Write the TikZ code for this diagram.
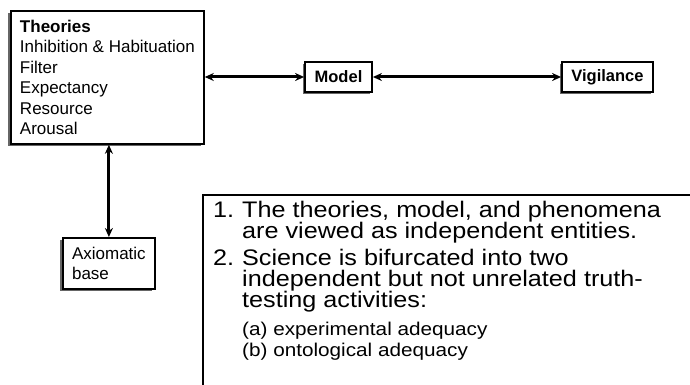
\documentclass[tikz,border=0pt]{standalone}
\usepackage{fontspec}
\setmainfont{Liberation Sans}
\newfontfamily\boxfont{Liberation Sans}
\newfontfamily\notefont[FakeStretch=1.12]{Liberation Sans}
\newfontfamily\subnotefont[FakeStretch=1.12]{Liberation Sans}
\usepackage{tikz}
\usetikzlibrary{arrows.meta,shadows}
\tikzstyle{shadowbox}=[rectangle,draw=black,line width=1.8pt,fill=white,
                       drop shadow={shadow xshift=-2.5pt,shadow yshift=-2.5pt,fill=black!60,opacity=1},
                       align=left,inner sep=0pt]
\tikzstyle{link}=[{Stealth[length=9pt,width=8pt]}-{Stealth[length=9pt,width=8pt]},line width=3pt]
\newcommand\boxsize{\boxfont\fontsize{17}{20.5}\selectfont}
\newcommand\numlabel[1]{\makebox[29pt][l]{#1}}
\newcommand\subnote[1]{{\subnotefont\fontsize{18.5}{23}\selectfont\numlabel{}#1}}

\begin{document}
\begin{tikzpicture}[x=1pt,y=-1pt]
    \useasboundingbox (0,0) rectangle (690,385);
    % boxes
    \node [shadowbox,font=\boxsize,anchor=north west,minimum width=193pt,minimum height=133pt] (theories) at (10,10) {
        \textbf{Theories}\\
        Inhibition \& Habituation\\
        Filter\\
        Expectancy\\
        Resource\\
        Arousal
    };
    \node [shadowbox,font=\boxsize\fontsize{16.5}{20}\selectfont\bfseries,minimum width=67pt,minimum height=30pt] (model) at (338.5,77) {Model};
    \node [shadowbox,font=\boxsize\fontsize{16.5}{20}\selectfont\bfseries,minimum width=91pt,minimum height=30pt] (vigilance) at (607.5,77) {Vigilance};
    \node [shadowbox,font=\boxsize,anchor=north west,minimum width=92pt,minimum height=51pt] (axiom) at (62,237) {
        Axiomatic\\
        base
    };
    % connectors
    \draw [link] (theories.east |- model.west) -- (model.west);
    \draw [link] (model.east) -- (vigilance.west);
    \draw [link] (axiom.north |- theories.south) -- (axiom.north);
    % notes
    \draw [line width=1.2pt] (203,385) |- (690,195);
    \node [anchor=north west,align=left,inner sep=0pt,font=\notefont\fontsize{22.5}{21}\selectfont] (notes) at (213,200.5) {
        \numlabel{1.}The theories, model, and phenomena\\
        \numlabel{}are viewed as independent entities.\\[6pt]
        \numlabel{2.}Science is bifurcated into two\\
        \numlabel{}independent but not unrelated truth-\\
        \numlabel{}testing activities:\\[7pt]
        \subnote{(a) experimental adequacy}\\
        \subnote{(b) ontological adequacy}
    };
\end{tikzpicture}
\end{document}
